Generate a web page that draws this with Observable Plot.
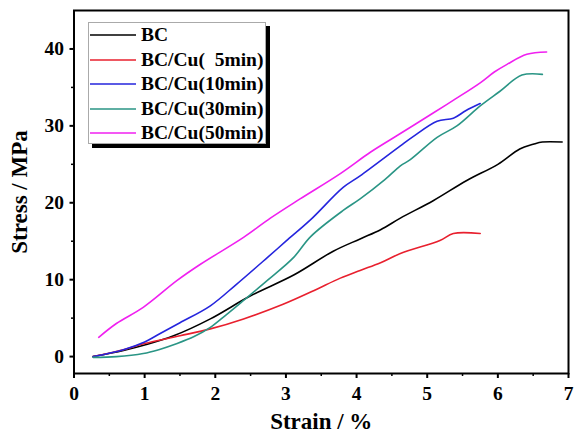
<!DOCTYPE html>
<html><head><meta charset="utf-8">
<script src="https://cdn.jsdelivr.net/npm/d3@7"></script>
<script src="https://cdn.jsdelivr.net/npm/@observablehq/plot@0.6"></script>
<style>
html,body{margin:0;padding:0;background:#fff;}
#wrap{position:relative;width:577px;height:433px;}
#wrap svg text{font-family:"Liberation Serif","Times New Roman",serif !important;font-weight:bold;}
#wrap svg g[aria-label="x-axis label"] text,#wrap svg g[aria-label="y-axis label"] text{font-size:23px;}
#legend{position:absolute;left:88px;top:22px;width:178px;height:122px;border:1px solid #aaa;box-shadow:4px 4px 0 #000;background:#fff;font-family:"Liberation Serif","Times New Roman",serif;font-weight:bold;font-size:19.5px;box-sizing:border-box;}
.row{position:absolute;left:1px;height:20px;display:flex;align-items:center;white-space:pre;}
.row svg{margin-right:5px;}
</style>
</head><body>
<div id="wrap"></div>
<script>
const seriesNames = ["BC", "BC/Cu(  5min)", "BC/Cu(10min)", "BC/Cu(30min)", "BC/Cu(50min)"];
const seriesColors = ["#000000", "#e8202e", "#2525dd", "#2a9585", "#f020f0"];

const bc = [[0.27,0],[0.7,0.8],[1.0,1.5],[1.41,2.7],[1.93,4.9],[2.5,7.9],[3.11,10.6],[3.67,13.7],[4.05,15.3],[4.34,16.5],[4.62,18.0],[5.09,20.3],[5.56,22.9],[6.0,25.0],[6.31,27.0],[6.5,27.6],[6.63,27.9],[6.91,27.9]];
const cu5 = [[0.27,0],[0.7,0.9],[1.0,1.7],[1.5,2.7],[1.93,3.6],[2.4,4.9],[2.96,6.8],[3.4,8.6],[3.77,10.2],[4.05,11.2],[4.34,12.2],[4.62,13.4],[5.18,15.1],[5.37,16.0],[5.75,16.0]];
const cu10 = [[0.27,0],[0.7,0.9],[1.0,1.9],[1.22,3.0],[1.5,4.4],[1.93,6.6],[2.3,9.4],[2.74,12.9],[3.0,15.0],[3.35,17.8],[3.81,22.0],[4.05,23.5],[4.62,27.4],[4.8,28.6],[5.14,30.6],[5.37,31.0],[5.55,32.0],[5.75,32.9]];
const cu30 = [[0.27,-0.1],[0.6,0.0],[0.98,0.4],[1.2,0.9],[1.46,1.7],[1.7,2.6],[1.93,3.8],[2.15,5.4],[2.4,7.3],[2.75,10.0],[3.11,12.9],[3.35,15.6],[3.81,19.0],[4.05,20.5],[4.4,23.0],[4.62,24.8],[4.76,25.6],[5.14,28.5],[5.42,30.0],[5.75,32.6],[6.03,34.5],[6.34,36.6],[6.63,36.7]];
const cu50 = [[0.35,2.5],[0.6,4.3],[0.98,6.4],[1.46,9.9],[1.79,12.0],[2.4,15.5],[2.78,18.0],[3.2,20.5],[3.77,23.8],[4.2,26.6],[4.62,29.0],[5.09,31.7],[5.4,33.5],[5.75,35.6],[5.95,37.0],[6.13,38.0],[6.41,39.3],[6.69,39.6]];

const xMajor = [0,1,2,3,4,5,6,7];
const xMinor = [0.5,1.5,2.5,3.5,4.5,5.5,6.5];
const yMajor = [0,10,20,30,40];
const yMinor = [5,15,25,35];

const allSeries = [bc, cu5, cu10, cu30, cu50];
const rows = allSeries.flatMap((s, i) => s.map(([x, y]) => ({x, y, name: seriesNames[i]})));

const font = {fontFamily: "'Liberation Serif', 'Times New Roman', serif", fontWeight: "bold", fontSize: "19.5px", color: "#000", background: "transparent"};

const chart = Plot.plot({
  width: 577, height: 433,
  marginLeft: 73.5, marginRight: 9, marginTop: 10, marginBottom: 60,
  style: font,
  x: {domain: [0, 7]},
  y: {domain: [-2.2, 45]},
  color: {domain: seriesNames, range: seriesColors},
  marks: [
    Plot.line(rows, {x: "x", y: "y", z: "name", stroke: "name", strokeWidth: 1.6, curve: "catmull-rom"}),
    Plot.axisX({ticks: xMajor, tickSize: 5, tickPadding: 8, tickFormat: d3.format("d"), label: "Strain / %", labelAnchor: "center", labelArrow: "none", labelOffset: 55, strokeWidth: 2}),
    Plot.axisX({ticks: xMinor, tickSize: 3, text: null, label: null, strokeWidth: 1.5}),
    Plot.axisY({ticks: yMajor, tickSize: 4, tickPadding: 6, tickFormat: d3.format("d"), label: "Stress / MPa", labelAnchor: "center", labelArrow: "none", labelOffset: 63, strokeWidth: 2}),
    Plot.axisY({ticks: yMinor, tickSize: 2.5, text: null, label: null, strokeWidth: 1.5}),
    Plot.frame({stroke: "#000", strokeWidth: 2})
  ]
});
document.getElementById("wrap").appendChild(chart);

const legend = document.createElement("div");
legend.id = "legend";
seriesNames.forEach((n, i) => {
  const r = document.createElement("div");
  r.className = "row";
  r.style.top = (2 + i * 24.5) + "px";
  r.innerHTML = `<svg width="46" height="4"><line x1="0" x2="46" y1="2" y2="2" stroke="${seriesColors[i]}" stroke-width="1.6"/></svg>`;
  const t = document.createElement("span");
  t.textContent = n;
  r.appendChild(t);
  legend.appendChild(r);
});
document.getElementById("wrap").appendChild(legend);
</script>
</body></html>
